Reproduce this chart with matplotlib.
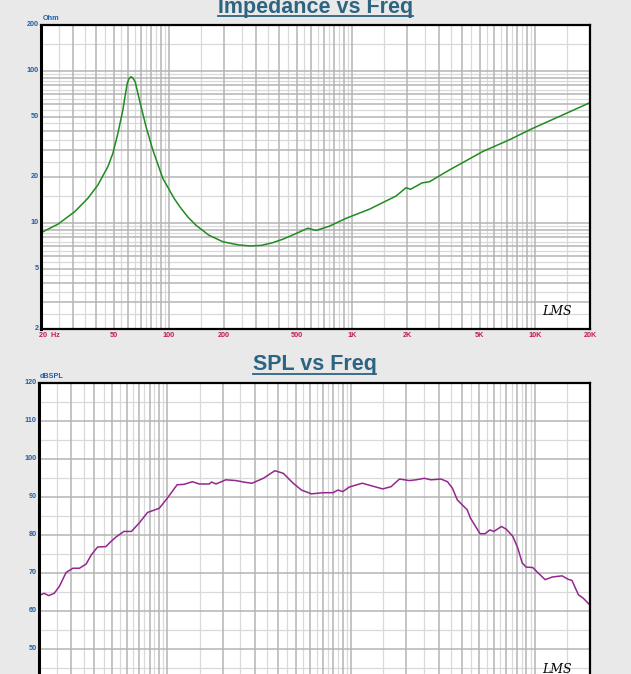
import matplotlib
matplotlib.use("Agg")
import matplotlib.pyplot as plt
from matplotlib.lines import Line2D
import matplotlib.transforms as mtransforms
import math

# ---------------- data ----------------
imp_freq = [20, 24.8, 30.5, 36.1, 40.9, 46.4, 49.4, 52.6, 56, 57.6, 59.2, 60.6, 62.1,
            63.6, 65.4, 69, 75, 81.7, 92.6, 107, 115, 127, 141, 165, 197, 240, 277,
            320, 370, 420, 474, 574, 638, 754, 930, 1250, 1744, 1976, 2090, 2420,
            2650, 3400, 5180, 7200, 9740, 14140, 20000]
imp_ohm = [8.6, 9.8, 11.8, 14.5, 17.7, 23.4, 28.6, 38.7, 55, 68, 82.6, 89, 91.4,
           89.5, 84.7, 64.3, 42.8, 30.1, 19.6, 14.4, 12.7, 10.9, 9.6, 8.3, 7.5, 7.15, 7.04,
           7.1, 7.4, 7.8, 8.3, 9.2, 8.9, 9.5, 10.7, 12.3, 15.0, 17.0, 16.6, 18.3,
           18.6, 22.2, 29.4, 35, 41.8, 51.1, 61.7]

spl_freq = [20, 21.3, 22.6, 24.2, 25.8, 28.1, 30.6, 33.2, 36.1, 38.5, 41.7, 46.2, 49.2,
            52.4, 58.0, 63.7, 70.2, 78.0, 90.3, 100.1, 113, 123, 137, 149, 169, 174,
            184, 208, 236, 268, 289, 333, 385, 428, 484, 537, 609, 703, 797, 849,
            902, 978, 1150, 1488, 1653, 1834, 2079, 2259, 2506, 2724, 3087, 3349,
            3563, 3790, 4030, 4290, 4470, 5040, 5360, 5700, 5990, 6590, 7000, 7600,
            8090, 8550, 8980, 9750, 10580, 11400, 12470, 14100, 15200, 15950, 17300,
            18400, 19900]
spl_db = [64.0, 64.6, 64.0, 64.6, 66.4, 70.1, 71.2, 71.2, 72.3, 74.7, 76.8, 76.9, 78.2,
          79.4, 80.9, 80.9, 83.1, 85.9, 87.0, 89.7, 93.2, 93.3, 94.0, 93.4, 93.4, 93.9,
          93.4, 94.5, 94.3, 93.8, 93.6, 94.9, 96.9, 96.2, 93.6, 91.8, 90.8, 91.1, 91.1, 91.8,
          91.4, 92.6, 93.6, 92.1, 92.7, 94.7, 94.3, 94.5, 94.9, 94.5, 94.7, 94.0,
          92.3, 89.2, 87.9, 86.6, 84.4, 80.3, 80.3, 81.3, 80.9, 82.2, 81.5, 79.6,
          76.5, 72.6, 71.5, 71.4, 69.7, 68.2, 68.9, 69.2, 68.3, 68.0, 64.2,
          63.3, 61.6]

imp_yticks = [2, 5, 10, 20, 50, 100, 200]
spl_yticks = [50, 60, 70, 80, 90, 100, 110, 120]   # 40 lies below the visible area
x_ticks = [20, 50, 100, 200, 500, 1000, 2000, 5000, 10000, 20000]
x_labels = ["20  Hz", "50", "100", "200", "500", "1K", "2K", "5K", "10K", "20K"]

# ---------------- style ----------------
BG = "#e9e9e9"
TITLE_C = "#2d6482"
YLAB_C = "#1f5fa8"
XLAB_C = "#c2185b"
DARK_GRID = "#b4b4b4"
LIGHT_GRID = "#d9d9d9"
FONT = "Liberation Sans"

W, H = 631, 674
fig = plt.figure(figsize=(W / 100, H / 100), dpi=100, facecolor=BG)


def add_axes(l, t, r, b):
    return fig.add_axes([l / W, 1 - b / H, (r - l) / W, (b - t) / H])


def log_lines(lo, hi):
    dark, light = [], []
    k = math.floor(math.log10(lo))
    while 10 ** k <= hi:
        for n in range(1, 10):
            v = n * 10 ** k
            if lo <= v <= hi:
                dark.append(v)
            v2 = (n + 0.5) * 10 ** k
            if lo < v2 < hi:
                light.append(v2)
        k += 1
    return dark, light


def style_axes(ax):
    ax.set_facecolor("white")
    ax.set_xscale("log")
    ax.set_xlim(20, 20000)
    ax.set_xticks([])
    ax.set_yticks([])
    ax.minorticks_off()
    ax.tick_params(which="both", length=0, labelleft=False, labelbottom=False)
    xd, xl = log_lines(20, 20000)
    for v in xl:
        ax.axvline(v, color=LIGHT_GRID, lw=0.9, zorder=1)
    for v in xd:
        ax.axvline(v, color=DARK_GRID, lw=1.1, zorder=1.1)
    for s in ax.spines.values():
        s.set_color("black")
        s.set_linewidth(1.6)
        s.set_zorder(5)
    ax.spines["left"].set_linewidth(2.2)


def x_labels_for(ax):
    trans = mtransforms.blended_transform_factory(ax.transData, ax.transAxes)
    off = mtransforms.ScaledTranslation(0, -6.5 / 100, fig.dpi_scale_trans)
    for v, lab in zip(x_ticks, x_labels):
        if v == 20:
            t2 = mtransforms.blended_transform_factory(ax.transData, ax.transAxes) + \
                mtransforms.ScaledTranslation(-1.6 / 100, -6.5 / 100, fig.dpi_scale_trans)
            ax.text(v, 0, lab, transform=t2, ha="left", va="center", fontsize=5.2,
                    fontweight="bold", color=XLAB_C, family=FONT, clip_on=False)
        else:
            ax.text(v, 0, lab, transform=trans + off, ha="center", va="center",
                    fontsize=5.2, fontweight="bold", color=XLAB_C, family=FONT,
                    clip_on=False)


def y_labels_for(ax, ticks):
    trans = mtransforms.blended_transform_factory(ax.transAxes, ax.transData) + \
        mtransforms.ScaledTranslation(-2.5 / 100, 0, fig.dpi_scale_trans)
    for v in ticks:
        ax.text(0, v, str(v), transform=trans, ha="right", va="center", fontsize=5.2,
                fontweight="bold", color=YLAB_C, family=FONT, clip_on=False)


def title(text, xc, baseline, uline):
    t = fig.text(xc / W, 1 - baseline / H, text, ha="center", va="baseline",
                 fontsize=15.5, fontweight="bold", color=TITLE_C, family=FONT)
    fig.canvas.draw()
    bb = t.get_window_extent(renderer=fig.canvas.get_renderer())
    x0, x1 = bb.x0 / W, bb.x1 / W
    fig.add_artist(Line2D([x0, x1], [1 - uline / H, 1 - uline / H], color=TITLE_C,
                          lw=1.3, transform=fig.transFigure))


# ---------------- impedance ----------------
ax1 = add_axes(41, 25, 590, 329)
style_axes(ax1)
ax1.set_yscale("log")
ax1.set_ylim(2, 200)
ax1.set_yticks([])
ax1.minorticks_off()
yd, yl = log_lines(2, 200)
for v in yl:
    ax1.axhline(v, color=LIGHT_GRID, lw=0.9, zorder=1)
for v in yd:
    ax1.axhline(v, color=DARK_GRID, lw=1.1, zorder=1.1)
ax1.plot(imp_freq, imp_ohm, color="#1e8c1e", lw=1.1, zorder=3)
x_labels_for(ax1)
y_labels_for(ax1, imp_yticks)
fig.text(43 / W, 1 - 19 / H, "Ohm", ha="left", va="center", fontsize=5.2,
         fontweight="bold", color=YLAB_C, family=FONT)
ax1.text(0.967, 0.035, "LMS", transform=ax1.transAxes, ha="right", va="bottom",
         fontsize=9, style="italic", family="DejaVu Serif", color="black", zorder=4)

# ---------------- SPL ----------------
ax2 = add_axes(39, 383, 590, 686.7)
style_axes(ax2)
ax2.set_ylim(40, 120)
ax2.set_yticks([])
for v in range(45, 120, 10):
    ax2.axhline(v, color=LIGHT_GRID, lw=0.9, zorder=1)
for v in range(40, 121, 10):
    ax2.axhline(v, color=DARK_GRID, lw=1.1, zorder=1.1)
ax2.plot(spl_freq, spl_db, color="#93278f", lw=1.1, zorder=3)
y_labels_for(ax2, spl_yticks)
fig.text(39.5 / W, 1 - 376 / H, "dBSPL", ha="left", va="center", fontsize=5.2,
         fontweight="bold", color=YLAB_C, family=FONT)
ax2.text(0.967, 0.035, "LMS", transform=ax2.transAxes, ha="right", va="bottom",
         fontsize=9, style="italic", family="DejaVu Serif", color="black", zorder=4)

# ---------------- titles ----------------
title("Impedance vs Freq", 315.5, 13, 15.5)
title("SPL vs Freq", 314.5, 370, 374)

fig.savefig("out.png", dpi=100, facecolor=BG)
